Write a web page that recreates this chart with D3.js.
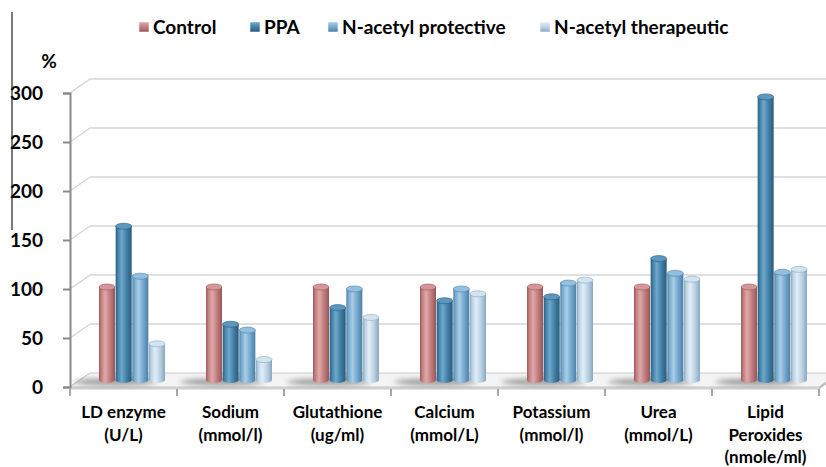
<!DOCTYPE html>
<html>
<head>
<meta charset="utf-8">
<script src="https://cdn.jsdelivr.net/npm/d3@7"></script>
<style>
  html, body { margin: 0; padding: 0; background: #fff; }
  svg { display: block; }
  text { font-family: Lato, "Open Sans", "DejaVu Sans", sans-serif; font-weight: 700; fill: #000; }
</style>
</head>
<body>
<svg id="chart" width="826" height="467"></svg>
<script>
// ---------- data ----------
const categories = ["LD enzyme|(U/L)", "Sodium|(mmol/l)", "Glutathione|(ug/ml)", "Calcium|(mmol/L)",
                    "Potassium|(mmol/l)", "Urea|(mmol/L)", "Lipid|Peroxides|(nmole/ml)"];
const seriesNames = ["Control", "PPA", "N-acetyl protective", "N-acetyl therapeutic"];
const control     = [100, 100, 100, 100, 100, 100, 100];
const ppa         = [162, 62, 79, 86, 90, 129, 294];
const protective  = [111, 56, 98, 98, 104, 114, 115];
const therapeutic = [42, 26, 69, 93, 107, 108, 118];
const yTicks = [0, 50, 100, 150, 200, 250, 300];
const seriesValues = [control, ppa, protective, therapeutic];

// colours: [dark edge, mid, highlight, top cap]
const palette = [
  ["#94585a", "#c07a7b", "#dfa9a9", "#d69596"],
  ["#2a5a78", "#3e7ea6", "#70a8ca", "#5c98be"],
  ["#4b7fa6", "#72a6cc", "#a9cde6", "#94c0df"],
  ["#8aa7be", "#b8d0e3", "#e2eef7", "#d3e4f1"]
];

const svg = d3.select("#chart");
const defs = svg.append("defs");

// ---------- scales ----------
const x = d3.scaleBand().domain(d3.range(categories.length)).range([70, 819]);
const yFront = d3.scaleLinear().domain([0, 300]).range([387, 93]);
const yBar = d3.scaleLinear().domain([0, 300]).range([382, 88]);
const inner = d3.scaleBand().domain(d3.range(seriesNames.length)).range([0, 66]).paddingInner(0.04);
const DX = 20, DY = -14;      // depth offset of back wall
const BX = 8.5, BASE = 380;   // bar depth position

// gradients
palette.forEach((p, i) => {
  const g = defs.append("linearGradient").attr("id", "cyl" + i).attr("x1", 0).attr("x2", 1).attr("y1", 0).attr("y2", 0);
  g.append("stop").attr("offset", "0%").attr("stop-color", p[0]);
  g.append("stop").attr("offset", "12%").attr("stop-color", p[1]);
  g.append("stop").attr("offset", "38%").attr("stop-color", p[2]);
  g.append("stop").attr("offset", "70%").attr("stop-color", p[1]);
  g.append("stop").attr("offset", "100%").attr("stop-color", p[0]);
  const l = defs.append("linearGradient").attr("id", "leg" + i).attr("x1", 0).attr("x2", 0).attr("y1", 0).attr("y2", 1);
  l.append("stop").attr("offset", "0%").attr("stop-color", p[2]);
  l.append("stop").attr("offset", "55%").attr("stop-color", p[1]);
  l.append("stop").attr("offset", "100%").attr("stop-color", p[0]);
});
const blur = defs.append("filter").attr("id", "blur").attr("x", "-50%").attr("y", "-200%").attr("width", "200%").attr("height", "500%");
blur.append("feGaussianBlur").attr("stdDeviation", 2.5);

// ---------- side artefact line ----------
svg.append("line").attr("x1", 12).attr("x2", 12).attr("y1", 12).attr("y2", 230)
  .attr("stroke", "#7a7a7a").attr("stroke-width", 2);

// ---------- walls / grid ----------
const xl = x.range()[0], xr = x.range()[1];
const grid = svg.append("g");
yTicks.forEach(t => {
  const yf = yFront(t);
  grid.append("line").attr("x1", xl).attr("y1", yf).attr("x2", xl + DX).attr("y2", yf + DY)
    .attr("stroke", "#d6d6d6").attr("stroke-width", 1.5);
  if (t > 0) grid.append("line").attr("x1", xl + DX).attr("y1", yf + DY).attr("x2", 830).attr("y2", yf + DY)
    .attr("stroke", "#d6d6d6").attr("stroke-width", 1.5);
});

// floor
const y0 = yFront(0);
svg.append("polygon")
  .attr("points", [[xl, y0], [xr, y0], [xr + DX, y0 + DY], [xl + DX, y0 + DY]].map(p => p.join(",")).join(" "))
  .attr("fill", "#f4f4f4").attr("stroke", "#c8c8c8").attr("stroke-width", 1);
svg.append("rect").attr("x", xl).attr("y", y0).attr("width", xr - xl).attr("height", 2.5).attr("fill", "#cfcfcf");
svg.append("polygon")
  .attr("points", [[xr, y0], [xr + DX, y0 + DY], [xr + DX, y0 + DY + 2.5], [xr, y0 + 2.5]].map(p => p.join(",")).join(" "))
  .attr("fill", "#bdbdbd");

// ---------- bars ----------
const barsG = svg.append("g");
categories.forEach((c, ci) => {
  const gx = x(ci) + x.bandwidth() / 2 - 33 + BX;
  barsG.append("ellipse").attr("cx", gx + 16).attr("cy", BASE + 2).attr("rx", 42).attr("ry", 3.5)
    .attr("fill", "#666").attr("opacity", 0.6).attr("filter", "url(#blur)");
});
categories.forEach((c, ci) => {
  const gx = x(ci) + x.bandwidth() / 2 - 33 + BX;
  seriesValues.forEach((vals, si) => {
    const v = vals[ci];
    const w = inner.bandwidth();
    const bx = gx + inner(si);
    const ry = 3;
    const top = yBar(v) + ry;
    const g = barsG.append("g");
    g.append("ellipse").attr("cx", bx + w / 2).attr("cy", BASE).attr("rx", w / 2).attr("ry", ry)
      .attr("fill", `url(#cyl${si})`);
    g.append("rect").attr("x", bx).attr("y", top).attr("width", w).attr("height", BASE - top)
      .attr("fill", `url(#cyl${si})`);
    g.append("ellipse").attr("cx", bx + w / 2).attr("cy", top).attr("rx", w / 2).attr("ry", ry)
      .attr("fill", palette[si][3]).attr("stroke", palette[si][0]).attr("stroke-width", 0.6);
  });
});

// ---------- front y axis ----------
const yAxis = d3.axisLeft(yFront).tickValues(yTicks).tickSize(7).tickPadding(10).tickFormat(d3.format("d"));
const ya = svg.append("g").attr("transform", `translate(${xl},0)`).call(yAxis);
ya.select(".domain").attr("stroke", "#8a8a8a").attr("stroke-width", 2);
ya.selectAll(".tick line").attr("stroke", "#8a8a8a").attr("stroke-width", 2);
ya.selectAll(".tick text").style("font-size", "19px").attr("fill", "#000").attr("x", -27).attr("dy", "0.36em");
ya.selectAll(".tick").filter(d => d === 0).select("line").attr("x2", -7);

svg.append("text").attr("x", 49).attr("y", 68).attr("text-anchor", "middle").style("font-size", "19px").text("%");

// ---------- x axis ticks & labels ----------
const xt = svg.append("g");
d3.range(categories.length + 1).forEach(i => {
  const tx = i < categories.length ? x(i) : xr;
  xt.append("line").attr("x1", tx).attr("x2", tx).attr("y1", y0 + 2).attr("y2", y0 + 9)
    .attr("stroke", "#8a8a8a").attr("stroke-width", 1.5);
});
categories.forEach((c, ci) => {
  const cx = x(ci) + x.bandwidth() / 2;
  const t = xt.append("text").attr("text-anchor", "middle").style("font-size", "17px");
  c.split("|").forEach((line, li) => {
    t.append("tspan").attr("x", cx).attr("y", 418 + li * 22.5).text(line);
  });
});

// ---------- legend ----------
const legendX = [139, 250, 328, 540];
const leg = svg.append("g");
seriesNames.forEach((n, i) => {
  leg.append("rect").attr("x", legendX[i]).attr("y", 22).attr("width", 10).attr("height", 10)
    .attr("fill", `url(#leg${i})`).attr("stroke", "#fff").attr("stroke-width", 0.5);
  leg.append("text").attr("x", legendX[i] + 14).attr("y", 34).style("font-size", "19px").text(n);
});
</script>
</body>
</html>
